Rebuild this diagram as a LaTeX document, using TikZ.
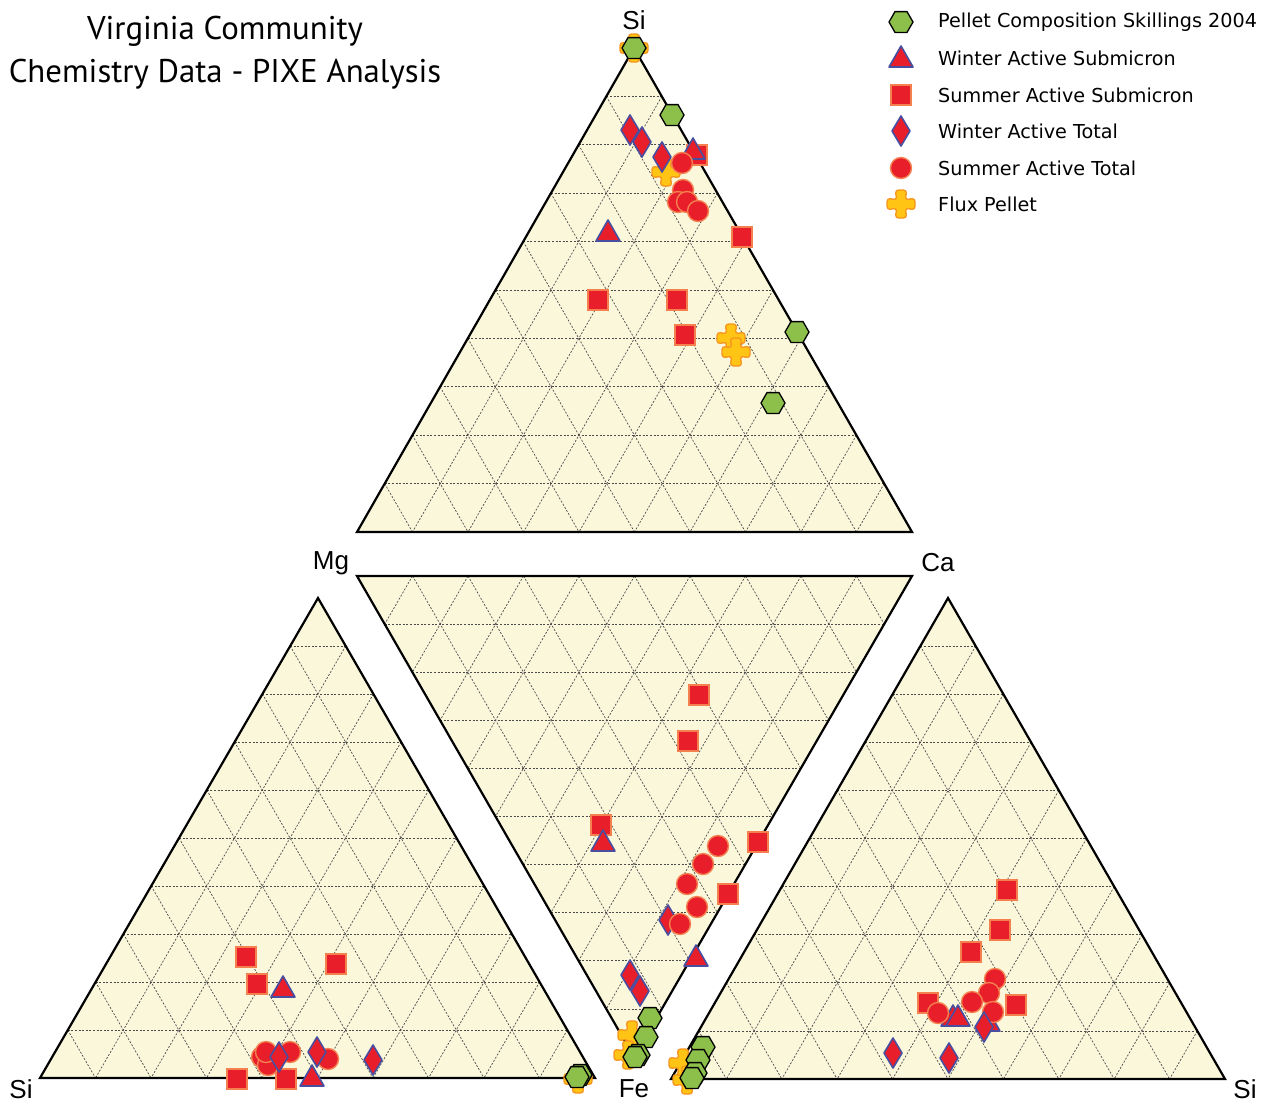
\documentclass[tikz,border=0pt]{standalone}
\usepackage{fontspec}
\setmainfont{DejaVu Sans}
\newfontfamily\titlefont{PT Sans}
\newfontfamily\labfont{Liberation Sans}
\usepackage{tikz}
\usetikzlibrary{calc}
\definecolor{tri-fill}{RGB}{250, 247, 219}
\definecolor{dot-red}{RGB}{232, 30, 42}
\definecolor{edge-orange}{RGB}{244, 128, 80}
\definecolor{edge-blue}{RGB}{72, 78, 160}
\definecolor{hex-green}{RGB}{140, 192, 75}
\definecolor{flux-yellow}{RGB}{255, 196, 20}
\definecolor{flux-orange}{RGB}{247, 148, 29}
\tikzset{
	gridline/.style={gray!60!black, line width=.7pt, dash pattern=on 2pt off 1.6pt},
	outline/.style={black, line width=2.2pt, line join=miter},
	sqstyle/.style={fill=dot-red, draw=edge-orange, line width=1.4pt},
	circstyle/.style={fill=dot-red, draw=edge-orange, line width=1.4pt},
	tristyle/.style={fill=dot-red, draw=edge-blue, line width=1.6pt, line join=round},
	diastyle/.style={fill=dot-red, draw=edge-blue, line width=1.6pt, line join=round},
	hexstyle/.style={fill=hex-green, draw=black, line width=1.3pt},
	fluxstyle/.style={fill=flux-yellow, draw=flux-orange, line width=1.3pt, rounded corners=3.5pt},
	elem/.style={font=\labfont\fontsize{26}{26}\selectfont, inner sep=0pt},
	legtext/.style={anchor=west, font=\fontsize{19.2}{21}\selectfont, inner sep=0pt}
}
% ternary panel: corners #1 #2 #3
\newcommand{\panel}[3]{
	\fill [tri-fill] #1 -- #2 -- #3 -- cycle;
	\foreach \i in {1,...,9}{
		\draw [gridline] ($#1!\i/10!#2$) -- ($#1!\i/10!#3$);
		\draw [gridline] ($#2!\i/10!#1$) -- ($#2!\i/10!#3$);
		\draw [gridline] ($#3!\i/10!#1$) -- ($#3!\i/10!#2$);
	}
	\draw [outline] #1 -- #2 -- #3 -- cycle;
}
\newcommand{\sqmark}[1]{\draw [sqstyle] #1 +(-10,-10) rectangle +(10,10);}
\newcommand{\circmark}[1]{\draw [circstyle] #1 circle [radius=10.5];}
\newcommand{\trimark}[1]{\draw [tristyle] #1 +(0,-12) -- +(12,9) -- +(-12,9) -- cycle;}
\newcommand{\diamark}[1]{\draw [diastyle] #1 +(0,-15) -- +(9,0) -- +(0,15) -- +(-9,0) -- cycle;}
\newcommand{\hexmark}[1]{\draw [hexstyle] #1 +(-12,0) -- +(-6,-10.4) -- +(6,-10.4) -- +(12,0) -- +(6,10.4) -- +(-6,10.4) -- cycle;}
\newcommand{\fluxmark}[1]{\draw [fluxstyle] #1 +(-6,-14) -- +(6,-14) -- +(4,-4) -- +(14,-6) -- +(14,6) -- +(4,4) -- +(6,14) -- +(-6,14) -- +(-4,4) -- +(-14,6) -- +(-14,-6) -- +(-4,-4) -- cycle;}

\begin{document}
\begin{tikzpicture}[x=1pt, y=-1pt]
\useasboundingbox [fill=white] (0,0) rectangle (1271,1104);

\panel{(634,48)}{(357,532)}{(912,532)}
\panel{(357,576)}{(912,576)}{(634,1057)}
\panel{(318,598)}{(40,1078)}{(595,1078)}
\panel{(948,598)}{(671,1079)}{(1225,1079)}

\node [align=center, font=\titlefont\fontsize{32.8}{43}\selectfont] (title) at (225,53) {Virginia Community\\Chemistry Data - PIXE Analysis};

\node [elem] (si-top) at (634,20) {Si};
\node [elem] (mg) at (331,563) {Mg};
\node [elem] (ca) at (938,563) {Ca};
\node [elem] (si-left) at (21,1089) {Si};
\node [elem] (fe) at (634,1089) {Fe};
\node [elem] (si-right) at (1245,1089) {Si};

\foreach \p in {(634,48),(666,172),(731,338),(736,352),(632,1035),(628,1055),(578,1079),(683,1063),(687,1080)}{
	\fluxmark{\p}
}
\foreach \p in {(697,155),(742,237),(598,300),(677,300),(685,335),(699,695),(688,741),(601,825),(758,842),(728,894),(246,957),(336,964),(257,984),(237,1079),(286,1079),(1007,890),(1000,930),(971,952),(928,1003),(1016,1005)}{
	\sqmark{\p}
}
\foreach \p in {(693,150),(608,232),(603,842),(696,957),(283,988),(312,1077),(953,1017),(958,1017),(988,1022)}{
	\trimark{\p}
}
\foreach \p in {(682,163),(683,190),(678,202),(687,202),(698,211),(718,846),(703,864),(687,884),(697,907),(262,1057),(268,1065),(266,1052),(290,1052),(328,1059),(995,979),(989,993),(972,1002),(938,1013),(993,1012)}{
	\circmark{\p}
}
\foreach \p in {(630,130),(642,142),(662,157),(668,920),(630,975),(640,991),(279,1057),(317,1052),(373,1060),(984,1027),(893,1053),(949,1058)}{
	\diamark{\p}
}
\circmark{(680,924)}
\foreach \p in {(634,48),(672,115),(797,332),(773,403),(650,1018),(646,1037),(638,1055),(635,1057),(580,1075),(577,1077),(703,1047),(698,1060),(695,1073),(692,1078)}{
	\hexmark{\p}
}

% legend
\hexmark{(901,22)}
\trimark{(901,58)}
\sqmark{(901,95)}
\diamark{(901,131)}
\circmark{(901,168)}
\fluxmark{(901,204)}
\node [legtext] (leg-hex) at (938,22) {Pellet Composition Skillings 2004};
\node [legtext] (leg-tri) at (938,58) {Winter Active Submicron};
\node [legtext] (leg-sq) at (938,95) {Summer Active Submicron};
\node [legtext] (leg-dia) at (938,131) {Winter Active Total};
\node [legtext] (leg-circ) at (938,168) {Summer Active Total};
\node [legtext] (leg-flux) at (938,204) {Flux Pellet};
\end{tikzpicture}
\end{document}
